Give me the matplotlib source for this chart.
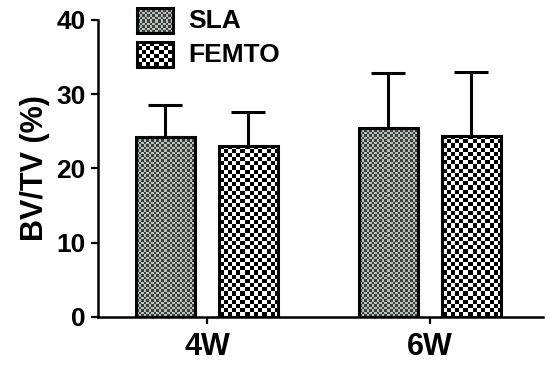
import matplotlib
matplotlib.use("Agg")
from matplotlib import pyplot as plt
from matplotlib.colors import ListedColormap
from matplotlib.patches import Rectangle
import numpy as np

groups = ["4W", "6W"]
series = ["SLA", "FEMTO"]
sla_mean = [24.2, 25.4]
sla_sd = [4.4, 7.5]
femto_mean = [23.0, 24.4]
femto_sd = [4.6, 8.6]

plt.rcParams['font.family'] = ['Liberation Sans', 'DejaVu Sans']
plt.rcParams['font.weight'] = 'bold'

# checker textures: (cell size in px, dark colour, light colour)
textures = {
    "SLA": (2.5, '#3b403d', '#b9beba'),
    "FEMTO": (4.2, '#000000', '#ffffff'),
}

fig = plt.figure(figsize=(5.5, 3.69), dpi=100)
ax = fig.add_axes([0.178, 0.141, 0.809, 0.805])

x = np.arange(len(groups))
w = 0.265
off = 0.186

ax.set_xlim(-0.489, 1.507)
ax.set_ylim(0, 40)


def fill_checker(bbox_px, name):
    # bbox_px: x0, y0, x1, y1 in display pixels
    cell, dark, light = textures[name]
    x0, y0, x1, y1 = bbox_px
    nw = max(int(round(x1 - x0)), 1)
    nh = max(int(round(y1 - y0)), 1)
    cc, rr = np.meshgrid(np.arange(nw), np.arange(nh))
    img = ((np.floor(cc / cell) + np.floor(rr / cell)) % 2).astype(float)
    inv = ax.transData.inverted()
    (dx0, dy0), (dx1, dy1) = inv.transform([(x0, y0), (x1, y1)])
    ax.imshow(img, extent=(dx0, dx1, dy0, dy1), origin='lower',
              cmap=ListedColormap([dark, light]), interpolation='nearest',
              aspect='auto', zorder=1.5, clip_on=False)


bars = {}
bars["SLA"] = ax.bar(x - off, sla_mean, w, facecolor='none', edgecolor='black',
                     linewidth=2.2, zorder=3)
bars["FEMTO"] = ax.bar(x + off, femto_mean, w, facecolor='none', edgecolor='black',
                       linewidth=2.2, zorder=3)

for xs, m, s in [(x - off, sla_mean, sla_sd), (x + off, femto_mean, femto_sd)]:
    ax.errorbar(xs, m, yerr=[np.zeros(len(s)), s], fmt='none', ecolor='black',
                elinewidth=2.2, capsize=12, capthick=2.2, zorder=1)

ax.set_yticks([0, 10, 20, 30, 40])
ax.set_xticks(x)
ax.set_xticklabels(groups, fontsize=22, fontweight='bold')
ax.tick_params(axis='y', labelsize=19, width=1.6, length=5, pad=4)
ax.tick_params(axis='x', width=1.6, length=5, pad=6)
ax.set_ylabel("BV/TV (%)", fontsize=22, fontweight='bold', labelpad=4)

for s in ['top', 'right']:
    ax.spines[s].set_visible(False)
for s in ['left', 'bottom']:
    ax.spines[s].set_linewidth(1.8)

fig.canvas.draw()
for name, bc in bars.items():
    for b in bc:
        e = b.get_window_extent()
        fill_checker((e.x0, e.y0, e.x1, e.y1), name)

# legend drawn by hand so the swatches carry the same texture
H = 369
for i, name in enumerate(series):
    top = 8 + i * 34
    px = (137, H - top - 25, 173, H - top)
    fill_checker(px, name)
    inv = ax.transData.inverted()
    (a0, b0), (a1, b1) = inv.transform([(px[0], px[1]), (px[2], px[3])])
    ax.add_patch(Rectangle((a0, b0), a1 - a0, b1 - b0, facecolor='none',
                           edgecolor='black', linewidth=2.2, zorder=3, clip_on=False))
    tx, ty = inv.transform((188, H - top - 12.5))
    ax.text(tx, ty, name, fontsize=19, fontweight='bold', va='center', ha='left')

ax.set_xlim(-0.489, 1.507)
ax.set_ylim(0, 40)

fig.savefig("out.png", dpi=100)
